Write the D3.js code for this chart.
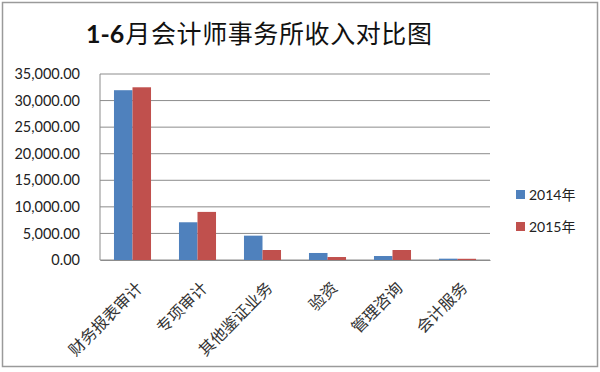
<!DOCTYPE html>
<html>
<head>
<meta charset="utf-8">
<script src="https://cdn.jsdelivr.net/npm/d3@7"></script>
<style>
  body { margin: 0; background: #fff; }
  text { font-family: Lato, "Noto Sans CJK SC", sans-serif; }
</style>
</head>
<body>
<div id="chart"></div>
<script>
var svgWidth = 600;
var svgHeight = 372;

var categories = ["财务报表审计", "专项审计", "其他鉴证业务", "验资", "管理咨询", "会计服务"];
var seriesNames = ["2014年", "2015年"];
var values2014 = [31950, 7100, 4580, 1320, 750, 250];
var values2015 = [32500, 9050, 1880, 560, 1880, 230];
var yTicks = [0, 5000, 10000, 15000, 20000, 25000, 30000, 35000];
var colors = ["#4F81BD", "#C0504D"];

var margin = { top: 74, right: 110, bottom: 112, left: 100 };
var width = svgWidth - margin.left - margin.right;
var height = svgHeight - margin.top - margin.bottom;

var svg = d3.select("#chart")
  .append("svg")
  .attr("width", svgWidth)
  .attr("height", svgHeight);

// outer frame
svg.append("rect")
  .attr("x", 2.5).attr("y", 2.5)
  .attr("width", 595).attr("height", 364)
  .attr("fill", "#fff")
  .attr("stroke", "#9a9a9a")
  .attr("stroke-width", 1.5);

// title
var title = svg.append("text")
  .attr("x", 86)
  .attr("y", 43)
  .attr("fill", "#111")
  .style("font-size", "25px");
title.append("tspan")
  .style("font-weight", "bold")
  .style("font-family", "Lato, sans-serif")
  .text("1-6");
title.append("tspan")
  .style("font-family", "'Noto Sans CJK SC', sans-serif")
  .style("letter-spacing", "0.6px")
  .attr("dx", 1)
  .text("月会计师事务所收入对比图");

var chartGroup = svg.append("g")
  .attr("transform", `translate(${margin.left}, ${margin.top})`);

var x0 = d3.scaleBand()
  .domain(categories)
  .range([0, width])
  .paddingInner(0.43)
  .paddingOuter(0.215);

var x1 = d3.scaleBand()
  .domain(seriesNames)
  .range([0, x0.bandwidth()]);

var y = d3.scaleLinear()
  .domain([0, 35000])
  .range([height, 0]);

// gridlines
chartGroup.append("g")
  .selectAll("line")
  .data(yTicks)
  .enter()
  .append("line")
  .attr("x1", 0)
  .attr("x2", width)
  .attr("y1", d => y(d))
  .attr("y2", d => y(d))
  .attr("stroke", "#8c8c8c")
  .attr("stroke-width", 1);

// left plot edge
chartGroup.append("line")
  .attr("x1", 0).attr("x2", 0)
  .attr("y1", 0).attr("y2", height)
  .attr("stroke", "#8c8c8c");

// y axis labels
var leftAxis = d3.axisLeft(y)
  .tickValues(yTicks)
  .tickSize(0)
  .tickPadding(20)
  .tickFormat(d3.format(",.2f"));

var yAxis = chartGroup.append("g").call(leftAxis);
yAxis.select(".domain").remove();
yAxis.selectAll("text")
  .style("font-size", "14.5px")
  .style("font-family", "Lato, sans-serif")
  .attr("fill", "#222");

// bars
var rows = categories.map((c, i) => ({ cat: c, vals: [values2014[i], values2015[i]] }));

var groups = chartGroup.selectAll(".grp")
  .data(rows)
  .enter()
  .append("g")
  .attr("transform", d => `translate(${x0(d.cat)}, 0)`);

groups.selectAll("rect")
  .data(d => d.vals.map((v, j) => ({ name: seriesNames[j], v: v, j: j })))
  .enter()
  .append("rect")
  .attr("x", d => x1(d.name))
  .attr("y", d => y(d.v))
  .attr("width", x1.bandwidth())
  .attr("height", d => height - y(d.v))
  .attr("fill", d => colors[d.j]);

// category labels
var bottomAxis = d3.axisBottom(x0).tickSize(0).tickPadding(0);
var xAxis = chartGroup.append("g")
  .attr("transform", `translate(0, ${height})`)
  .call(bottomAxis);
xAxis.select(".domain").attr("stroke", "#8c8c8c");
xAxis.selectAll("text")
  .style("font-size", "16px")
  .style("font-family", "'Noto Sans CJK SC', sans-serif")
  .attr("fill", "#333")
  .attr("text-anchor", "end")
  .attr("dy", null)
  .attr("y", 0)
  .attr("transform", "translate(11, 29) rotate(-45)");

// legend
var legend = svg.append("g")
  .attr("transform", "translate(516, 190)");

var item = legend.selectAll("g")
  .data(seriesNames)
  .enter()
  .append("g")
  .attr("transform", (d, i) => `translate(0, ${i * 32})`);

item.append("rect")
  .attr("width", 9)
  .attr("height", 9)
  .attr("fill", (d, i) => colors[i]);

item.append("text")
  .attr("x", 13)
  .attr("y", 10)
  .style("font-size", "14px")
  .attr("fill", "#222")
  .text(d => d);
</script>
</body>
</html>
